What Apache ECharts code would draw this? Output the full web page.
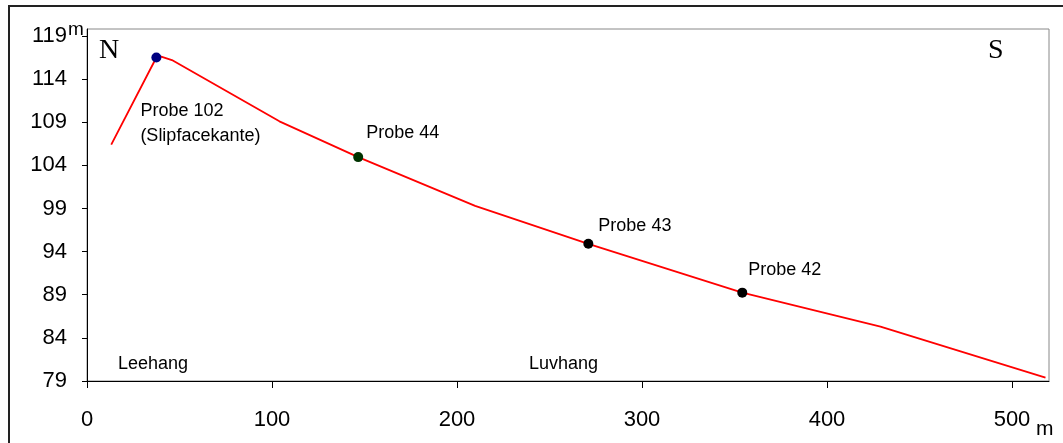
<!DOCTYPE html>
<html>
<head>
<meta charset="utf-8">
<script src="https://cdn.jsdelivr.net/npm/echarts@6/dist/echarts.min.js"></script>
<style>
html,body{margin:0;padding:0;background:#fff;}
#chart{width:1063px;height:443px;}
</style>
</head>
<body>
<div id="chart"></div>
<script>
// ---- data ----
var profileX = [13.1, 37.5, 40.1, 45.9, 104.0, 146.6, 209.8, 271.0, 354.2, 428.9, 518.1];
var profileY = [106.4, 116.5, 116.6, 116.2, 109.1, 104.95, 99.3, 94.9, 89.24, 85.3, 79.4];
var probeNames = ['Probe 102\n(Slipfacekante)', 'Probe 44', 'Probe 43', 'Probe 42'];
var probeX = [37.5, 146.6, 271.0, 354.2];
var probeY = [116.5, 104.95, 94.9, 89.24];
var xTicks = [0, 100, 200, 300, 400, 500];
var yTicks = [79, 84, 89, 94, 99, 104, 109, 114, 119];
var sideLabels = ['N', 'S'];
var slopeLabels = ['Leehang', 'Luvhang'];

// ---- styles ----
var probeColors = ['#000080', '#003300', '#000000', '#000000'];
var probeOffsets = [[-16, 66], [8, -24.5], [10, -17.3], [6, -22.4]];
var FONT = 'Liberation Sans, Arial, sans-serif';

var chart = echarts.init(document.getElementById('chart'), null, {renderer: 'canvas'});

var lineData = profileX.map(function (x, i) { return [x, profileY[i]]; });
var probeData = probeX.map(function (x, i) {
  return {
    value: [x, probeY[i]],
    name: probeNames[i],
    itemStyle: {color: probeColors[i], opacity: 1},
    label: {offset: probeOffsets[i]}
  };
});

var option = {
  animation: false,
  backgroundColor: '#fff',
  grid: {left: 87, right: 14, top: 29, bottom: 62, show: true, borderColor: '#888', borderWidth: 1, backgroundColor: 'transparent'},
  xAxis: {
    type: 'value', min: 0, max: 520, interval: 100,
    splitLine: {show: false},
    axisLine: {show: true, onZero: false, lineStyle: {color: '#000', width: 1}},
    axisTick: {show: true, length: 7, lineStyle: {color: '#000'}, customValues: xTicks},
    axisLabel: {show: true, margin: 28, fontSize: 22, color: '#000', fontFamily: FONT, customValues: xTicks}
  },
  yAxis: {
    type: 'value', min: 79, max: 119.8, interval: 5,
    splitLine: {show: false},
    axisLine: {show: true, onZero: false, lineStyle: {color: '#000', width: 1}},
    axisTick: {show: true, length: 5, lineStyle: {color: '#000'}, customValues: yTicks},
    axisLabel: {show: true, margin: 20, fontSize: 22, color: '#000', fontFamily: FONT, customValues: yTicks}
  },
  series: [
    {
      type: 'line', data: lineData, showSymbol: false, symbol: 'none',
      lineStyle: {color: '#ff0000', width: 1.8}, z: 2
    },
    {
      type: 'scatter', data: probeData, symbolSize: 10, z: 3,
      label: {
        show: true, position: 'inside', align: 'left', verticalAlign: 'middle',
        formatter: '{b}', fontSize: 18, lineHeight: 25, color: '#000', fontFamily: FONT,
        textBorderWidth: 0
      }
    }
  ],
  graphic: [
    {type: 'rect', shape: {x: 9, y: 6, width: 1200, height: 800}, style: {fill: 'none', stroke: '#222', lineWidth: 2}, silent: true, z: 0},
    {type: 'text', left: 99, top: 37, style: {text: sideLabels[0], font: '28px "Liberation Serif", "Times New Roman", serif', fill: '#000'}},
    {type: 'text', left: 988, top: 37, style: {text: sideLabels[1], font: '28px "Liberation Serif", "Times New Roman", serif', fill: '#000'}},
    {type: 'text', left: 118, top: 355, style: {text: slopeLabels[0], font: '18px ' + FONT, fill: '#000'}},
    {type: 'text', left: 529, top: 355, style: {text: slopeLabels[1], font: '18px ' + FONT, fill: '#000'}},
    {type: 'text', left: 68, top: 20, style: {text: 'm', font: '19px ' + FONT, fill: '#000'}},
    {type: 'text', left: 1036, top: 419, style: {text: 'm', font: '21px ' + FONT, fill: '#000'}}
  ]
};
chart.setOption(option);
</script>
</body>
</html>
